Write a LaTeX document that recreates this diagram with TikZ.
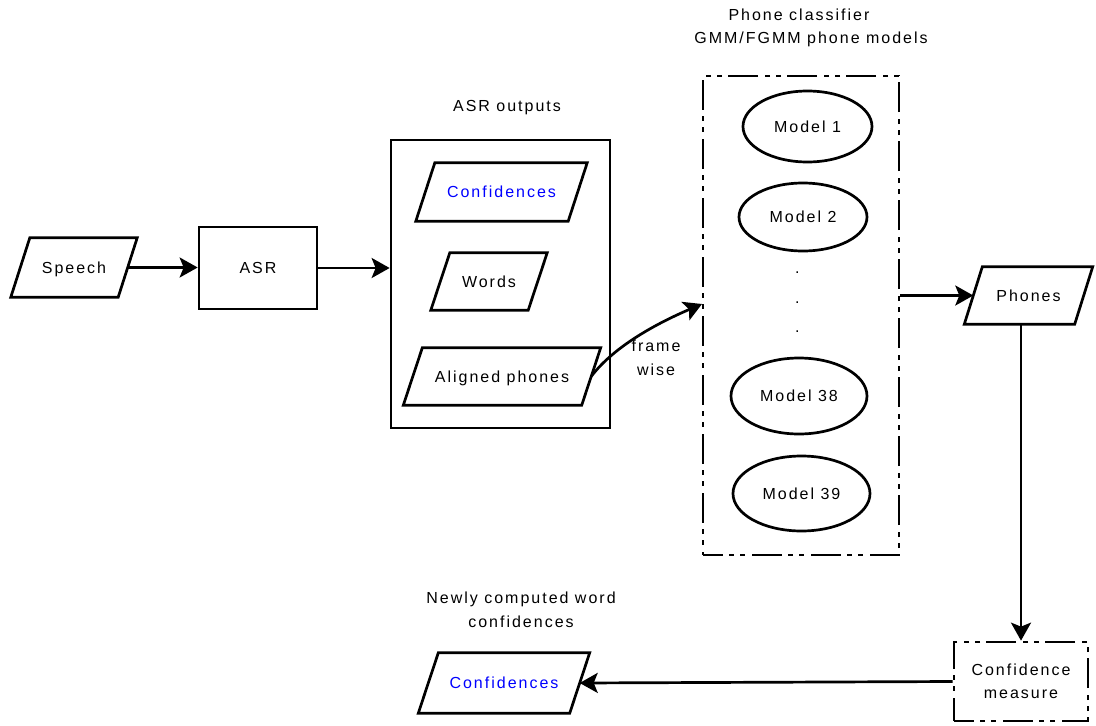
\documentclass[tikz,border=0pt]{standalone}
\usepackage{fontspec}
\setmainfont{Liberation Sans}[LetterSpace=12.5]
\usetikzlibrary{arrows.meta,calc,shapes.geometric}

\newcommand\drawpara[2]{%
  \draw[shapeline] ($(#1.north west)+(#2,0)$) -- ($(#1.north east)+(#2,0)$)
    -- ($(#1.south east)+(-#2,0)$) -- ($(#1.south west)+(-#2,0)$) -- cycle;}

\begin{document}
\begin{tikzpicture}[x=1pt,y=-1pt,
  every node/.style={font=\fontsize{16pt}{23.5pt}\selectfont, inner sep=0pt},
  shapeline/.style={line width=2.7pt, line join=miter},
  one/.style={text height=11.5pt, text depth=0pt},
  para/.style={one},
  rbox/.style={draw, shapeline, one},
  dashdot/.style={dash pattern=on 30pt off 6pt on 5pt off 6pt on 5pt off 7pt, dash phase=10pt},
  model/.style={ellipse, draw, shapeline, one},
  arr/.style={line width=2.7pt, -{Stealth[length=18pt,width=20pt,inset=4pt]}},
  conf/.style={text=blue}]
\useasboundingbox (0,0) rectangle (1096,726);

% titles
\node[one] (t1) at (507,106) {ASR outputs};
\node[one] (t2a) at (799,15) {Phone classifier};
\node[one] (t2b) at (811,38) {GMM/FGMM phone models};
\node[align=center] (t3) at (521,610) {Newly computed word\\confidences};

% speech and ASR
\node[para, minimum width=107pt, minimum height=59pt] (sp) at (74,267.5) {Speech};
\drawpara{sp}{9.5}
\node[rbox, minimum width=118pt, minimum height=82pt] (asr) at (258,268) {ASR};

% ASR outputs
\node[draw, shapeline, minimum width=219pt, minimum height=288pt] (outbox) at (500.5,284) {};
\node[para, conf, minimum width=152pt, minimum height=58pt] (c1) at (501.5,192) {Confidences};
\drawpara{c1}{9.5}
\node[para, minimum width=97pt, minimum height=57pt] (w) at (489,281.5) {Words};
\drawpara{w}{9.5}
\node[para, minimum width=178pt, minimum height=57pt] (ap) at (502,376.5) {Aligned phones};
\drawpara{ap}{9.5}

% classifier
\node[draw, shapeline, dashdot, minimum width=196pt, minimum height=479pt] (cls) at (801,315.5) {};
\node[model, minimum width=129pt, minimum height=71pt] (m1) at (807.5,126.5) {Model 1};
\node[model, minimum width=128pt, minimum height=68pt] (m2) at (803,217) {Model 2};
\node[anchor=base] (d1) at (797.3,273) {.};
\node[anchor=base] (d2) at (797.3,303) {.};
\node[anchor=base] (d3) at (797.3,332) {.};
\node[model, minimum width=136pt, minimum height=76pt] (m38) at (799,396) {Model 38};
\node[model, minimum width=137pt, minimum height=75pt] (m39) at (801.5,493.5) {Model 39};
\coordinate (clsin) at (702,304);

% phones and confidence measure
\node[para, minimum width=110pt, minimum height=57pt] (ph) at (1028.5,295.5) {Phones};
\drawpara{ph}{9}
\node[draw, shapeline, dashdot, align=center, minimum width=134pt, minimum height=79pt] (cm) at (1021,681.5) {Confidence\\measure};
\node[para, conf, minimum width=151pt, minimum height=60pt] (c2) at (504,683) {Confidences};
\drawpara{c2}{10}

% connectors
\draw[arr] (sp.east) -- (sp.east -| asr.west);
\draw[arr] (asr.east) -- (asr.east -| outbox.west);
\draw[arr] (ap.east) .. controls (615,345) and (660,322) .. (clsin);
\node[align=center] (fw) at (656,357.6) {frame\\wise};
\draw[arr] (cls.east |- ph.west) -- (ph.west);
\draw[arr] (ph.south -| cm.north) -- (cm.north);
\draw[arr] (cm.west) -- (c2.east);
\end{tikzpicture}
\end{document}
